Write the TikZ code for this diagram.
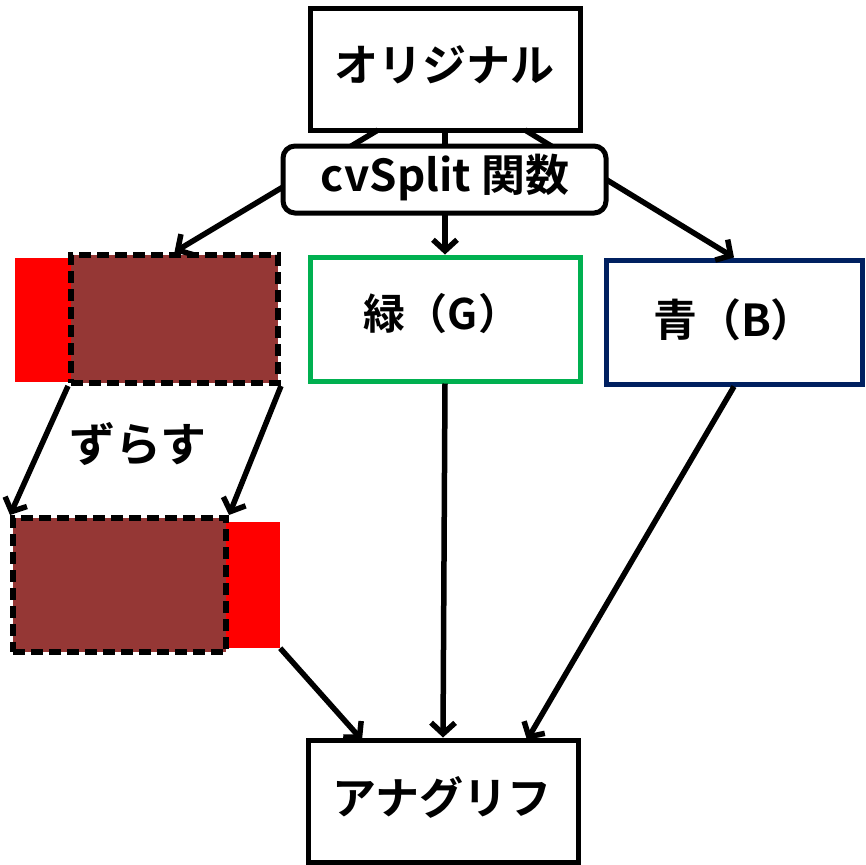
\documentclass[tikz,border=0pt]{standalone}
\usepackage{fontspec}
\setmainfont{Noto Sans CJK JP}[BoldFont={* Bold}]
\usetikzlibrary{arrows.meta}
\definecolor{brownfill}{HTML}{953735}
\definecolor{boxgreen}{HTML}{00B050}
\definecolor{boxnavy}{HTML}{002060}
\tikzset{
  box/.style={draw=black, line width=5pt, fill=white, inner sep=0pt},
  lbl/.style={font=\bfseries\fontsize{42}{44}\selectfont, inner sep=0pt},
  arr/.style={draw=black, line width=5.5pt,
    -{Straight Barb[length=11pt,width=24pt,line width=5.5pt]}},
  shifted/.style={fill=brownfill, draw=black, line width=6pt,
    dash pattern=on 12pt off 6pt, inner sep=0pt},
  plain red/.style={fill=red, draw=none, inner sep=0pt}
}
\begin{document}
\begin{tikzpicture}[x=1pt,y=-1pt]
\useasboundingbox (0,0) rectangle (865,865);

% input image and the two colour planes
\node[box, minimum width=270pt, minimum height=122pt] (orig) at (445,69) {};
\node[lbl, font=\bfseries\fontsize{44}{46}\selectfont] (origlbl) at (444,65) {オリジナル};
\node[box, draw=boxgreen, minimum width=270pt, minimum height=124pt] (green) at (445,319) {};
\node[lbl] (greenlbl) at (442,314) {緑（G）};
\node[box, draw=boxnavy, minimum width=256pt, minimum height=124pt] (blue) at (734,322) {};
\node[lbl, font=\bfseries\fontsize{44}{46}\selectfont] (bluelbl) at (734,320) {青（B）};

% red plane before and after the shift
\node[plain red, minimum width=262pt, minimum height=124pt] (redA) at (146,320) {};
\node[shifted, minimum width=207pt, minimum height=128pt] (brownA) at (174.5,319) {};
\node[plain red, minimum width=54pt, minimum height=126pt] (redB) at (253,585) {};
\node[shifted, minimum width=213pt, minimum height=134pt] (brownB) at (119.5,585) {};
\node[lbl, font=\bfseries\fontsize{46}{48}\selectfont] (shiftlbl) at (138,444) {ずらす};

% result
\node[box, minimum width=270pt, minimum height=122pt] (anag) at (443,801) {};
\node[lbl, font=\bfseries\fontsize{44}{46}\selectfont] (anaglbl) at (442,797) {アナグリフ};

% split into three channels
\coordinate (o1) at (378,130);
\coordinate (o2) at (445,130);
\coordinate (o3) at (525,130);
\draw[arr] (o1) -- (brownA.north);
\draw[arr] (o2) -- (green.north);
\draw[arr] (o3) -- (blue.north);
\node[box, rounded corners=12pt, minimum width=323pt, minimum height=67pt] (split) at (444.5,179.5) {};
\node[lbl, font=\bfseries\fontsize{44}{46}\selectfont] (splitlbl) at (445,178) {cvSplit 関数};

% shift of the red plane
\draw[arr] (brownA.south west) -- (brownB.north west);
\draw[arr] (brownA.south east) -- (brownB.north east);

% merge
\coordinate (a1) at (362,740);
\coordinate (a3) at (527,740);
\draw[arr] (redB.south east) -- (a1);
\draw[arr] (green.south) -- (anag.north);
\draw[arr] (blue.south) -- (a3);
\end{tikzpicture}
\end{document}
